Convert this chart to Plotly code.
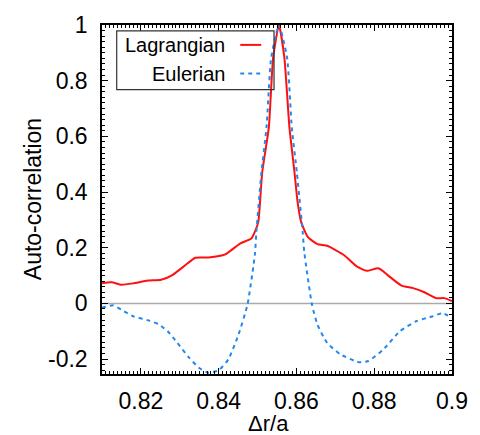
import plotly.graph_objects as go

# ---- data ----
lag_x = [0.8100, 0.8103, 0.8125, 0.8150, 0.8180, 0.8218, 0.8252, 0.8281, 0.8315, 0.8340,
         0.8374, 0.8417, 0.8455, 0.8484, 0.8493, 0.8502, 0.8512, 0.8529, 0.8540, 0.8555,
         0.8569, 0.8582, 0.8595, 0.8603, 0.8612, 0.8629, 0.8654, 0.8679, 0.8722, 0.8756,
         0.8781, 0.8811, 0.8836, 0.8870, 0.8900, 0.8929, 0.8959, 0.8980, 0.9000]
lag_y = [0.072, 0.073, 0.076, 0.067, 0.072, 0.082, 0.085, 0.102, 0.138, 0.164,
         0.165, 0.176, 0.215, 0.233, 0.257, 0.293, 0.471, 0.632, 0.882, 1.000,
         0.882, 0.632, 0.471, 0.364, 0.293, 0.239, 0.213, 0.207, 0.174, 0.132,
         0.117, 0.126, 0.100, 0.064, 0.055, 0.040, 0.019, 0.019, 0.008]

eul_x = [0.8100, 0.8103, 0.8129, 0.8150, 0.8180, 0.8222, 0.8247, 0.8269, 0.8294, 0.8324,
         0.8349, 0.8374, 0.8400, 0.8425, 0.8451, 0.8474, 0.8493, 0.8497, 0.8510, 0.8523,
         0.8535, 0.8555, 0.8576, 0.8588, 0.8601, 0.8616, 0.8620, 0.8640, 0.8654, 0.8679,
         0.8713, 0.8760, 0.8785, 0.8823, 0.8866, 0.8908, 0.8951, 0.8976, 0.9000]
eul_y = [-0.015, -0.014, -0.007, -0.023, -0.046, -0.062, -0.076, -0.100, -0.142, -0.195,
         -0.231, -0.249, -0.240, -0.201, -0.112, -0.005, 0.174, 0.257, 0.471, 0.632,
         0.882, 1.000, 0.882, 0.632, 0.471, 0.257, 0.186, -0.005, -0.076, -0.142,
         -0.183, -0.211, -0.207, -0.166, -0.100, -0.064, -0.046, -0.035, -0.052]

x_ticks = [0.82, 0.84, 0.86, 0.88, 0.90]
x_ticktext = ["0.82", "0.84", "0.86", "0.88", "0.9"]
y_ticks = [-0.2, 0.0, 0.2, 0.4, 0.6, 0.8, 1.0]
y_ticktext = ["-0.2", "0", "0.2", "0.4", "0.6", "0.8", "1"]

series_names = ["Lagrangian", "Eulerian"]
x_title = "Δr/a"
y_title = "Auto-correlation"

RED = "#ff1010"
BLUE = "#2288ee"
FONT = "Liberation Sans, Arial, Helvetica, sans-serif"

fig = go.Figure()
fig.add_trace(go.Scatter(x=lag_x, y=lag_y, mode="lines", name=series_names[0],
                         line=dict(color=RED, width=2, shape="spline", smoothing=0.5),
                         showlegend=False))
fig.add_trace(go.Scatter(x=eul_x, y=eul_y, mode="lines", name=series_names[1],
                         line=dict(color=BLUE, width=2, dash="4px,4px", shape="spline", smoothing=0.5),
                         showlegend=False))

# zero reference line
fig.add_hline(y=0, line=dict(color="#aaaaaa", width=1.5), layer="below")

axis_common = dict(showline=True, linecolor="black", linewidth=1.5, mirror="allticks",
                   ticks="inside", ticklen=6, tickwidth=1, tickcolor="black",
                   showgrid=False, zeroline=False,
                   tickfont=dict(family=FONT, size=23, color="black"))

fig.update_xaxes(range=[0.81, 0.9], tickvals=x_ticks, ticktext=x_ticktext,
                 minor=dict(ticks="inside", ticklen=3, dtick=0.001, tickcolor="black", showgrid=False),
                 ticklabelstandoff=6, **axis_common)
fig.update_yaxes(range=[-0.2535, 1.0], tickvals=y_ticks, ticktext=y_ticktext,
                 minor=dict(ticks="inside", ticklen=3, dtick=0.02, tickcolor="black", showgrid=False),
                 ticklabelstandoff=8, **axis_common)

# axis titles
fig.add_annotation(text=x_title, xref="paper", yref="paper", x=0.4746, y=-0.142,
                   xanchor="center", yanchor="middle", showarrow=False,
                   font=dict(family=FONT, size=22, color="black"))
fig.add_annotation(text=y_title, xref="paper", yref="paper", x=-0.198, y=0.5,
                   xanchor="center", yanchor="middle", showarrow=False, textangle=-90,
                   font=dict(family=FONT, size=23, color="black"))

# legend box (drawn manually: text on the left, sample on the right)
fig.add_shape(type="rect", xref="paper", yref="paper", x0=0.042, x1=0.4915, y0=0.815, y1=0.983,
              line=dict(color="#333333", width=1.2), fillcolor="rgba(0,0,0,0)")
leg_y = [0.943, 0.861]
for name, yy, col, dash in [(series_names[0], leg_y[0], RED, "solid"),
                            (series_names[1], leg_y[1], BLUE, "4px,4px")]:
    fig.add_annotation(text=name, xref="paper", yref="paper", x=0.356, y=yy,
                       xanchor="right", yanchor="middle", showarrow=False,
                       font=dict(family=FONT, size=20, color="black"))
    fig.add_shape(type="line", xref="paper", yref="paper", x0=0.395, x1=0.455, y0=yy, y1=yy,
                  line=dict(color=col, width=2, dash=dash))

fig.update_layout(width=480, height=435, margin=dict(l=102, r=24, t=22, b=61),
                  paper_bgcolor="white", plot_bgcolor="white", showlegend=False,
                  font=dict(family=FONT, color="black"))

fig.write_html("out.html", config={"displayModeBar": False},
               post_script="document.body.style.margin='0';document.body.style.overflow='hidden';")
